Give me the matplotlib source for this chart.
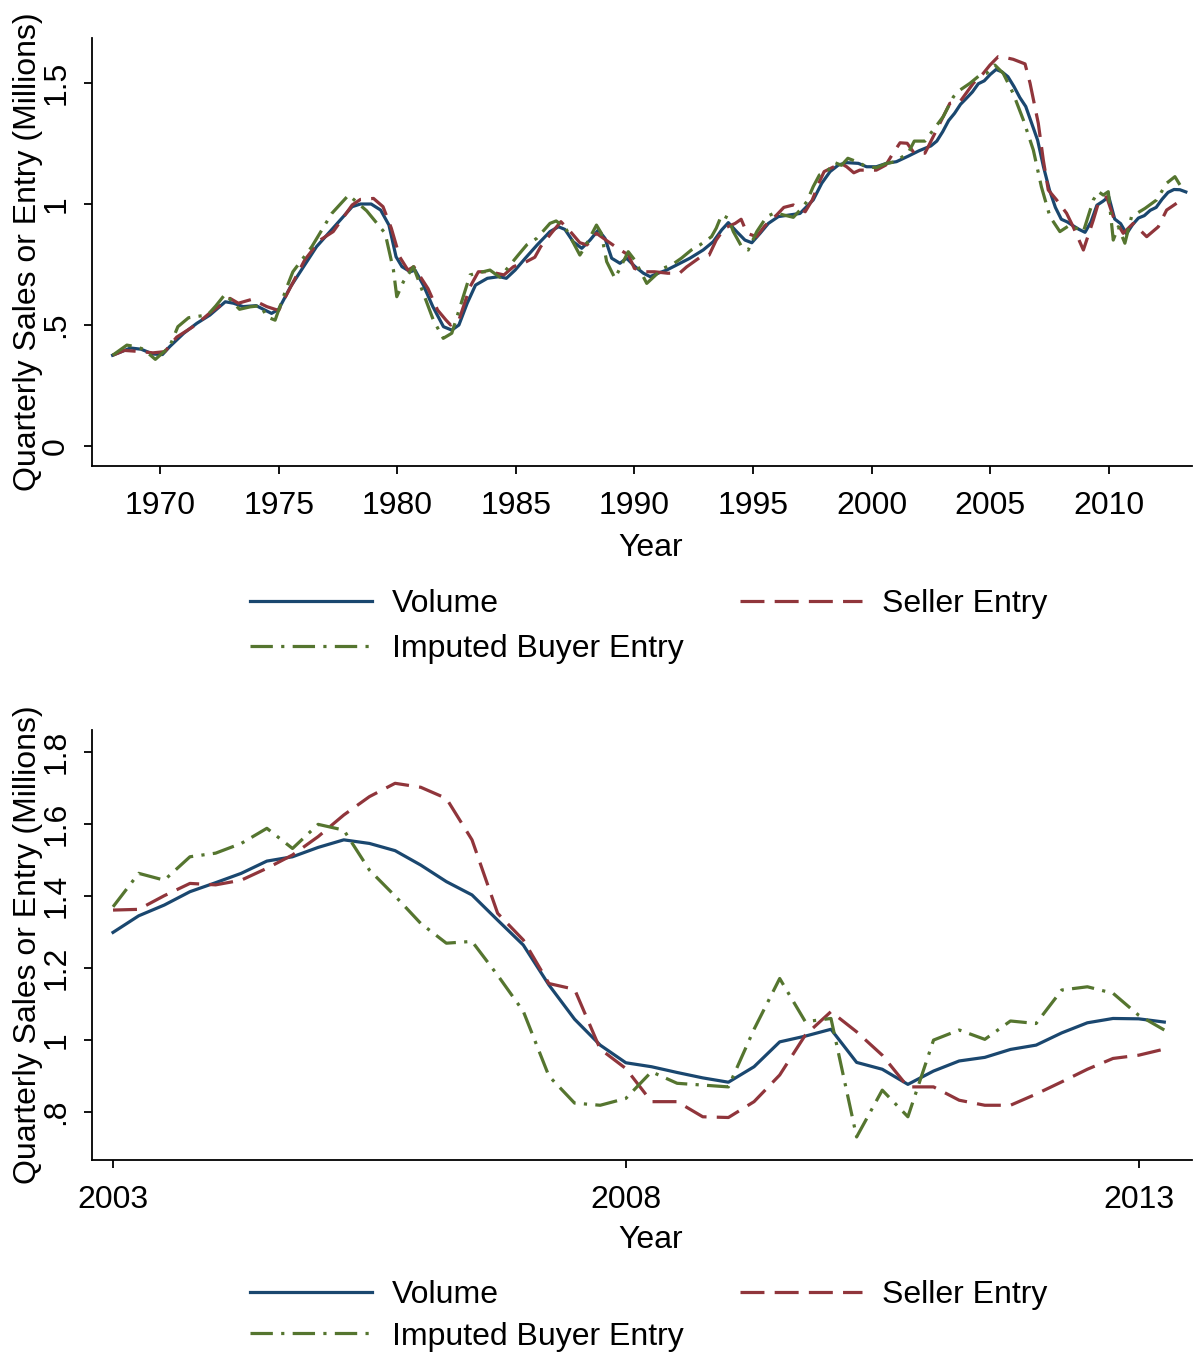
import numpy as np
import matplotlib
matplotlib.use("Agg")
import matplotlib.pyplot as plt
from matplotlib.lines import Line2D

plt.rcParams['font.family'] = ['Liberation Sans', 'DejaVu Sans']

# ---------------- data: long-run panel (1968 - 2013) ----------------
vol_early_years = [1968.0, 1968.75, 1969.2, 1969.7, 1970.1, 1970.4, 1971.0, 1971.55, 1972.1, 1972.75,
                   1973.1, 1973.5, 1974.05, 1974.7, 1975.0, 1975.5, 1976.05, 1976.6, 1977.1, 1977.6,
                   1978.1, 1978.45, 1978.9, 1979.3, 1979.65, 1979.95, 1980.2, 1980.55, 1980.75, 1981.1,
                   1981.5, 1981.95, 1982.3, 1982.6, 1982.95, 1983.3, 1983.8, 1984.3, 1984.6, 1984.97,
                   1985.4, 1985.9, 1986.44, 1986.8, 1987.07, 1987.42, 1987.78, 1988.13, 1988.48, 1988.76,
                   1989.04, 1989.39, 1989.67, 1990.03, 1990.38, 1990.66, 1991.0, 1991.36, 1991.78, 1992.34,
                   1992.9, 1993.32, 1993.68, 1993.96, 1994.31, 1994.66, 1994.95, 1995.3, 1995.65, 1996.07,
                   1996.56, 1996.98, 1997.54, 1997.9, 1998.25, 1998.6, 1998.95, 1999.44, 1999.79, 2000.2,
                   2000.63, 2001.05, 2001.55, 2002.0, 2002.5, 2002.75]
vol_early = [0.375, 0.405, 0.400, 0.380, 0.378, 0.41, 0.466, 0.507, 0.541, 0.596,
             0.59, 0.576, 0.58, 0.548, 0.565, 0.658, 0.741, 0.824, 0.879, 0.934,
             0.989, 1.0, 1.0, 0.975, 0.913, 0.782, 0.741, 0.72, 0.727, 0.665,
             0.576, 0.493, 0.479, 0.5, 0.59, 0.665, 0.693, 0.7, 0.693, 0.727,
             0.776, 0.831, 0.886, 0.906, 0.895, 0.844, 0.817, 0.851, 0.893, 0.858,
             0.776, 0.755, 0.776, 0.741, 0.714, 0.7, 0.714, 0.727, 0.748, 0.776,
             0.81, 0.844, 0.893, 0.923, 0.886, 0.851, 0.84, 0.879, 0.92, 0.948,
             0.955, 0.961, 1.017, 1.086, 1.134, 1.161, 1.171, 1.168, 1.154, 1.154,
             1.168, 1.175, 1.198, 1.22, 1.24, 1.26]

sel_top_years = [1968.0, 1968.5, 1969.2, 1969.7, 1970.2, 1970.7, 1971.5, 1972.1, 1972.95, 1973.3,
                 1973.87, 1974.5, 1975.0, 1975.2, 1976.1, 1976.75, 1977.3, 1977.7, 1978.1, 1978.45,
                 1979.0, 1979.4, 1979.75, 1980.1, 1980.45, 1980.7, 1981.3, 1981.7, 1982.05, 1982.25,
                 1982.6, 1983.07, 1983.42, 1983.9, 1984.5, 1984.9, 1985.45, 1985.8, 1986.05, 1986.5,
                 1986.9, 1987.3, 1987.7, 1988.0, 1988.4, 1988.9, 1989.3, 1989.75, 1990.0, 1990.4,
                 1990.85, 1991.4, 1991.9, 1992.2, 1992.8, 1993.15, 1993.45, 1993.8, 1994.25, 1994.5,
                 1994.75, 1995.15, 1995.5, 1996.0, 1996.3, 1996.7, 1997.2, 1997.5, 1997.8, 1998.0,
                 1998.7, 1998.95, 1999.25, 1999.5, 2000.2, 2000.6, 2000.9, 2001.2, 2001.5, 2001.8,
                 2002.25, 2002.74, 2003.3, 2003.73, 2004.29, 2004.71, 2004.99, 2005.34, 2005.65, 2005.97,
                 2006.47, 2006.68, 2007.03, 2007.24, 2007.45, 2007.8, 2008.22, 2008.5, 2008.93, 2009.35,
                 2009.56, 2009.91, 2010.19, 2010.61, 2011.03, 2011.6, 2012.09, 2012.44, 2012.86]
sel_top = [0.375, 0.395, 0.39, 0.385, 0.39, 0.45, 0.50, 0.55, 0.61, 0.59,
           0.606, 0.576, 0.56, 0.60, 0.769, 0.851, 0.886, 0.941, 0.996, 1.019,
           1.023, 0.989, 0.90, 0.782, 0.727, 0.741, 0.65, 0.562, 0.521, 0.50,
           0.52, 0.658, 0.72, 0.72, 0.707, 0.741, 0.762, 0.78, 0.824, 0.88,
           0.927, 0.886, 0.84, 0.831, 0.879, 0.844, 0.817, 0.789, 0.734, 0.72,
           0.72, 0.714, 0.714, 0.74, 0.782, 0.789, 0.851, 0.90, 0.920, 0.937,
           0.879, 0.865, 0.91, 0.955, 0.986, 0.996, 0.968, 1.017, 1.092, 1.134,
           1.168, 1.154, 1.129, 1.140, 1.140, 1.161, 1.209, 1.253, 1.251, 1.21,
           1.21, 1.306, 1.416, 1.423, 1.499, 1.54, 1.574, 1.609, 1.605, 1.598,
           1.579, 1.50, 1.333, 1.182, 1.058, 1.017, 0.962, 0.906, 0.81, 0.934,
           1.003, 1.03, 0.948, 0.879, 0.92, 0.865, 0.906, 0.975, 1.003]

buy_top_years = [1968.0, 1968.6, 1969.0, 1969.3, 1969.8, 1970.4, 1970.75, 1971.2, 1971.6, 1972.0,
                 1972.35, 1972.75, 1973.1, 1973.35, 1973.8, 1974.25, 1974.5, 1974.85, 1975.35, 1975.6,
                 1976.4, 1977.24, 1977.95, 1978.71, 1979.49, 1979.84, 1979.98, 1980.26, 1980.68, 1981.52,
                 1981.94, 1982.3, 1983.07, 1983.91, 1984.33, 1985.1, 1985.46, 1985.88, 1986.44, 1986.7,
                 1987.1, 1987.7, 1987.9, 1988.4, 1988.6, 1988.83, 1989.18, 1989.74, 1990.0, 1990.52,
                 1991.2, 1991.6, 1991.98, 1992.4, 1992.75, 1993.25, 1993.45, 1993.68, 1993.96, 1994.17,
                 1994.52, 1994.8, 1995.16, 1995.58, 1995.93, 1996.28, 1996.7, 1997.05, 1997.27, 1997.54,
                 1997.8, 1998.17, 1998.45, 1998.73, 1999.0, 1999.37, 1999.79, 2000.2, 2000.63, 2001.0,
                 2001.55, 2001.8, 2002.25, 2002.6, 2003.02, 2003.45, 2003.73, 2004.15, 2004.57, 2004.85,
                 2005.2, 2005.55, 2005.97, 2006.4, 2006.82, 2007.16, 2007.52, 2007.94, 2008.36, 2008.93,
                 2009.35, 2009.56, 2009.77, 2009.98, 2010.19, 2010.4, 2010.68, 2010.96, 2011.53, 2012.02,
                 2012.44, 2012.79, 2013.0]
buy_top = [0.375, 0.417, 0.41, 0.40, 0.358, 0.41, 0.493, 0.53, 0.536, 0.541,
           0.579, 0.628, 0.59, 0.565, 0.575, 0.58, 0.534, 0.52, 0.658, 0.72,
           0.824, 0.961, 1.037, 0.972, 0.879, 0.727, 0.617, 0.679, 0.741, 0.521,
           0.445, 0.466, 0.707, 0.727, 0.697, 0.789, 0.831, 0.858, 0.920, 0.93,
           0.90, 0.789, 0.82, 0.913, 0.88, 0.762, 0.693, 0.803, 0.77, 0.672,
           0.734, 0.75, 0.776, 0.81, 0.83, 0.865, 0.9, 0.955, 0.941, 0.886,
           0.824, 0.81, 0.886, 0.948, 0.964, 0.955, 0.945, 0.982, 1.01, 1.072,
           1.12, 1.14, 1.171, 1.16, 1.189, 1.175, 1.154, 1.15, 1.168, 1.175,
           1.212, 1.26, 1.26, 1.306, 1.361, 1.443, 1.471, 1.499, 1.533, 1.54,
           1.574, 1.54, 1.457, 1.347, 1.223, 1.071, 0.948, 0.886, 0.913, 0.886,
           1.017, 1.051, 1.037, 1.051, 0.851, 0.906, 0.838, 0.948, 0.982, 1.017,
           1.086, 1.113, 1.079]

# ---------------- data: recent panel, 2003Q1 - 2013Q2 quarterly ----------------
recent_start = 2003.0
vol_recent = [1.299, 1.345, 1.375, 1.412, 1.437, 1.463, 1.497, 1.509, 1.535, 1.556,
              1.546, 1.526, 1.486, 1.440, 1.403, 1.333, 1.264, 1.153, 1.058, 0.986,
              0.937, 0.926, 0.910, 0.895, 0.883, 0.926, 0.995, 1.011, 1.030, 0.938,
              0.919, 0.877, 0.914, 0.942, 0.952, 0.974, 0.986, 1.020, 1.048, 1.060,
              1.059, 1.050]
sel_recent = [1.361, 1.363, 1.401, 1.435, 1.431, 1.444, 1.477, 1.514, 1.565, 1.625,
              1.676, 1.713, 1.702, 1.671, 1.556, 1.352, 1.278, 1.157, 1.141, 0.975,
              0.921, 0.829, 0.829, 0.787, 0.785, 0.829, 0.903, 1.014, 1.079, 1.023,
              0.958, 0.870, 0.870, 0.833, 0.819, 0.819, 0.850, 0.884, 0.919, 0.949,
              0.958, 0.975]
buy_recent = [1.370, 1.463, 1.444, 1.509, 1.519, 1.546, 1.588, 1.532, 1.599, 1.583,
              1.472, 1.40, 1.324, 1.269, 1.274, 1.18, 1.08, 0.90, 0.825, 0.819,
              0.838, 0.912, 0.880, 0.875, 0.870, 1.03, 1.171, 1.051, 1.060, 0.731,
              0.861, 0.787, 1.000, 1.028, 1.002, 1.053, 1.046, 1.139, 1.148, 1.130,
              1.069, 1.028]

series_labels = ["Volume", "Seller Entry", "Imputed Buyer Entry"]
top_xticks = [1970, 1975, 1980, 1985, 1990, 1995, 2000, 2005, 2010]
top_yticks = [0, 0.5, 1, 1.5]
top_yticklabels = ["0", ".5", "1", "1.5"]
bot_xticks = [2003, 2008, 2013]
bot_yticks = [0.8, 1.0, 1.2, 1.4, 1.6, 1.8]
bot_yticklabels = [".8", "1", "1.2", "1.4", "1.6", "1.8"]

# ---------------- styling ----------------
C_VOL = "#1a476f"
C_SEL = "#90353b"
C_BUY = "#55752f"
LW = 2.3
FS = 23
styles = [
    dict(color=C_VOL, lw=LW, ls='-'),
    dict(color=C_SEL, lw=LW, ls=(0, (7.5, 3.2))),
    dict(color=C_BUY, lw=LW, ls=(0, (7.0, 2.6, 1.0, 2.6))),
]

W, H = 1201, 1354
fig = plt.figure(figsize=(W / 100, H / 100), dpi=100)


def px_axes(left, right, top, bottom):
    return fig.add_axes([left / W, 1 - bottom / H, (right - left) / W, (bottom - top) / H])


def style_axes(ax):
    for s in ['top', 'right']:
        ax.spines[s].set_visible(False)
    for s in ['left', 'bottom']:
        ax.spines[s].set_linewidth(1.3)
        ax.spines[s].set_color('black')
    ax.tick_params(direction='out', length=6, width=1.3, labelsize=FS)
    ax.tick_params(axis='x', pad=12)
    ax.tick_params(axis='y', pad=9, labelrotation=90)
    for lab in ax.get_yticklabels():
        lab.set_verticalalignment('center')


def add_legend(ax, top_px, spacing):
    handles = [Line2D([], [], **st) for st in styles]
    order = [0, 2, 1]  # column-major fill -> row1: Volume, Seller ; row2: Buyer
    leg = ax.legend([handles[i] for i in order], [series_labels[i] for i in order],
                    ncol=2, frameon=False, fontsize=FS, loc='upper left',
                    bbox_to_anchor=(250 / W, 1 - top_px / H), bbox_transform=fig.transFigure,
                    handlelength=3.82, handletextpad=0.63, columnspacing=1.75,
                    labelspacing=spacing, borderpad=0, borderaxespad=0)
    return leg


def quarter_years(start, n):
    return [start + 0.25 * k for k in range(n)]


recent_years = quarter_years(recent_start, len(vol_recent))

# ---------------- top panel ----------------
ax1 = px_axes(92, 1192, 38, 466)
ax1.plot(vol_early_years + recent_years, vol_early + vol_recent, **styles[0])
ax1.plot(sel_top_years, sel_top, **styles[1])
ax1.plot(buy_top_years, buy_top, **styles[2])
ax1.set_xlim(1967.13, 2013.51)
ax1.set_ylim(-0.0826, 1.686)
ax1.set_xticks(top_xticks)
ax1.set_yticks(top_yticks)
ax1.set_yticklabels(top_yticklabels)
style_axes(ax1)
ax1.set_xlabel("Year", fontsize=FS)
ax1.set_ylabel("Quarterly Sales or Entry (Millions)", fontsize=FS)
ax1.xaxis.set_label_coords(0.508, -0.157)
ax1.yaxis.set_label_coords(-0.0445, 0.5)
add_legend(ax1, 589, 0.47)

# ---------------- bottom panel ----------------
ax2 = px_axes(92, 1192, 730, 1160)
ax2.plot(recent_years, vol_recent, **styles[0])
ax2.plot(recent_years, sel_recent, **styles[1])
ax2.plot(recent_years, buy_recent, **styles[2])
ax2.set_xlim(2002.795, 2013.52)
ax2.set_ylim(0.667, 1.861)
ax2.set_xticks(bot_xticks)
ax2.set_yticks(bot_yticks)
ax2.set_yticklabels(bot_yticklabels)
style_axes(ax2)
ax2.set_xlabel("Year", fontsize=FS)
ax2.set_ylabel("Quarterly Sales or Entry (Millions)", fontsize=FS)
ax2.xaxis.set_label_coords(0.508, -0.152)
ax2.yaxis.set_label_coords(-0.0445, 0.5)
add_legend(ax2, 1280, 0.36)

fig.savefig("out.png", dpi=100, facecolor='white')
